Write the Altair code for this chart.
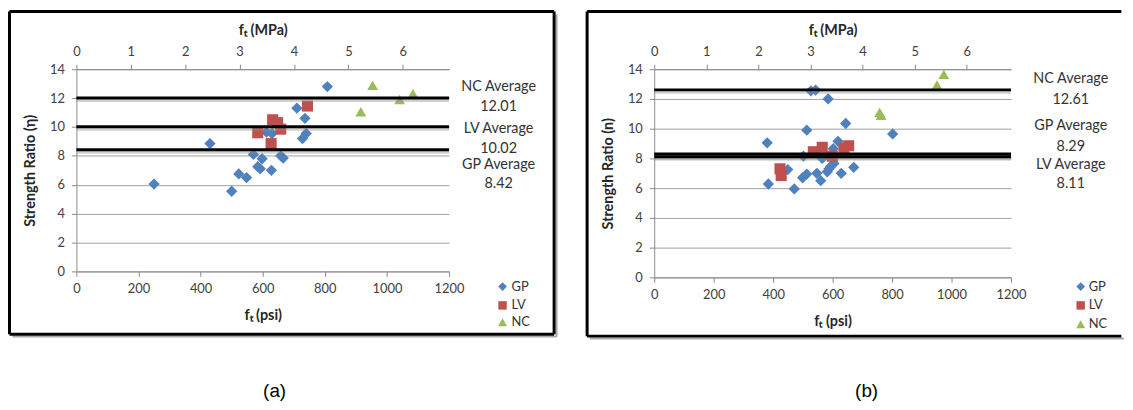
import altair as alt
import pandas as pd

SERIES = ["GP", "LV", "NC"]
COLORS = ["#4F81BD", "#C0504D", "#9BBB59"]
SHAPES = ["diamond", "square", "triangle-up"]
SIZES = [130, 120, 140]

# ---------------- panel (a) ----------------
a_gp_psi = [250, 430, 500, 523, 548, 570, 584, 592, 598, 612, 630, 628, 658, 666, 710, 728, 736, 740, 808]
a_gp_ratio = [6.05, 8.85, 5.55, 6.75, 6.5, 8.1, 7.25, 7.1, 7.8, 9.65, 9.55, 7.0, 8.0, 7.85, 11.3, 9.2, 10.6, 9.55, 12.8]
a_lv_psi = [584, 627, 632, 648, 658, 744]
a_lv_ratio = [9.6, 8.85, 10.5, 10.3, 9.85, 11.45]
a_nc_psi = [916, 954, 1041, 1084]
a_nc_ratio = [11.05, 12.88, 11.9, 12.3]
a_avg_names = ["NC", "LV", "GP"]
a_avg_values = [12.01, 10.02, 8.42]

# ---------------- panel (b) ----------------
b_gp_psi = [380, 384, 449, 471, 499, 513, 502, 513, 527, 543, 585, 547, 560, 565, 582, 588, 593, 604, 618, 629, 644, 671, 602, 802]
b_gp_ratio = [9.05, 6.28, 7.25, 5.95, 6.7, 6.95, 8.15, 9.9, 12.55, 12.6, 12.0, 7.0, 6.5, 8.0, 7.1, 7.3, 7.45, 7.65, 9.15, 7.0, 10.35, 7.4, 8.65, 9.65]
b_lv_psi = [423, 427, 535, 565, 599, 638, 654]
b_lv_ratio = [7.3, 6.85, 8.45, 8.75, 8.15, 8.7, 8.85]
b_nc_psi = [758, 763, 951, 974]
b_nc_ratio = [11.1, 10.9, 12.95, 13.65]
b_avg_names = ["NC", "GP", "LV"]
b_avg_values = [12.61, 8.29, 8.11]

x_ticks = [0, 200, 400, 600, 800, 1000, 1200]
mpa_ticks = [0, 1, 2, 3, 4, 5, 6]
y_ticks = [0, 2, 4, 6, 8, 10, 12, 14]

FONT = "Lato"
TXT = "#333333"


def one(label):
    return pd.DataFrame({"label": [label]})


def text_at(label, x, y, size=14.5, align="center", color=TXT, font=FONT):
    return alt.Chart(one(label)).mark_text(
        align=align, baseline="middle", fontSize=size, font=font, color=color
    ).encode(x=alt.value(x), y=alt.value(y), text="label:N")


def hline(x1, x2, y, color="black", width=3):
    return alt.Chart(one("f")).mark_rule(color=color, strokeWidth=width).encode(
        x=alt.value(x1), x2=alt.value(x2), y=alt.value(y))


def vline(x, y1, y2, color="black", width=3):
    return alt.Chart(one("f")).mark_rule(color=color, strokeWidth=width).encode(
        x=alt.value(x), y=alt.value(y1), y2=alt.value(y2))


def panel(gp, lv, nc, names, values, ytitle, letter, g):
    w, h = g["w"], g["h"]
    rows = []
    for s, (px, ry) in zip(SERIES, [gp, lv, nc]):
        for a, b in zip(px, ry):
            rows.append({"series": s, "psi": a, "ratio": b})
    df = pd.DataFrame(rows)

    xs = alt.Scale(domain=[0, 1200], nice=False)
    ys = alt.Scale(domain=[0, 14], nice=False)
    x_axis = alt.Axis(values=x_ticks, grid=False, title="fₜ (psi)", format="d", labelFlush=False,
                      labelOverlap=False, labelPadding=6, titlePadding=14)
    y_axis = alt.Axis(values=y_ticks, grid=True, title=ytitle, format="d", labelOverlap=False,
                      labelPadding=7, titlePadding=12)

    points = alt.Chart(df).mark_point(filled=True, opacity=1, strokeWidth=0).encode(
        x=alt.X("psi:Q", scale=xs, axis=x_axis),
        y=alt.Y("ratio:Q", scale=ys, axis=y_axis),
        color=alt.Color("series:N", scale=alt.Scale(domain=SERIES, range=COLORS), legend=None),
        shape=alt.Shape("series:N", scale=alt.Scale(domain=SERIES, range=SHAPES), legend=None),
        size=alt.Size("series:N", scale=alt.Scale(domain=SERIES, range=SIZES), legend=None),
    )

    avg_df = pd.DataFrame({"name": names, "avg": values, "x0": [0] * len(names), "x1": [1200] * len(names)})
    shadow = alt.Chart(avg_df).mark_rule(color="#8c8c8c", strokeWidth=3, yOffset=2.5, opacity=0.4).encode(
        x=alt.X("x0:Q", scale=xs, axis=x_axis), x2="x1:Q", y=alt.Y("avg:Q", scale=ys, axis=y_axis))
    rules = alt.Chart(avg_df).mark_rule(color="black", strokeWidth=3).encode(
        x=alt.X("x0:Q", scale=xs, axis=x_axis), x2="x1:Q", y=alt.Y("avg:Q", scale=ys, axis=y_axis))

    layers = [points, shadow, rules]

    cx = g["ann_x"]
    for i, (n, v) in enumerate(zip(names, values)):
        layers.append(text_at(f"{n} Average", cx, g["ann_y"][2 * i]))
        layers.append(text_at(f"{v:.2f}", cx, g["ann_y"][2 * i + 1]))

    for i, s in enumerate(SERIES):
        ly = g["leg_y"][i]
        layers.append(alt.Chart(one(s)).mark_point(
            shape=SHAPES[i], filled=True, opacity=1, strokeWidth=0, color=COLORS[i],
            size=SIZES[i] * 0.6).encode(x=alt.value(g["leg_sx"]), y=alt.value(ly)))
        layers.append(text_at(s, g["leg_tx"], ly, size=13, align="left"))

    x1, y1, x2, y2 = g["frame"]
    layers.append(hline(x1 + 3, x2 + 2.5, y2 + 2.5, color="#a8a8a8", width=2))
    if g["right_edge"]:
        layers.append(vline(x2 + 2.5, y1 + 3, y2 + 2.5, color="#a8a8a8", width=2))
        layers.append(vline(x2, y1, y2))
    layers.append(hline(x1, x2, y1))
    layers.append(hline(x1, x2, y2))
    layers.append(vline(x1, y1, y2))

    layers.append(text_at(letter, g["lab_x"], g["lab_y"], size=19,
                          font="Liberation Sans Narrow, Liberation Sans", color="black"))

    inner = alt.layer(*layers)

    top = alt.Chart(pd.DataFrame({"mpa": mpa_ticks})).mark_point(opacity=0).encode(
        x=alt.X("mpa:Q", scale=alt.Scale(domain=[0, 6.85], nice=False), axis=alt.Axis(
            orient="top", values=mpa_ticks, grid=False, title="fₜ (MPa)", format="d",
            labelFlush=False, labelOverlap=False, labelPadding=6, titlePadding=8)))

    return alt.layer(inner, top).resolve_scale(x="independent").properties(width=w, height=h)


# plot tops are shared by both panels (page y = 67.7)
ga = dict(w=376, h=204, frame=(-67.5, -58.2, 482, 267.3), right_edge=True,
          ann_x=426, ann_y=[18.3, 38.3, 60.3, 80.3, 96.3, 116.3],
          leg_sx=430, leg_tx=439, leg_y=[219.3, 238.3, 255.3],
          lab_x=200, lab_y=324.3)
gb = dict(w=360, h=210, frame=(-67.7, -58.2, 471.3, 269.3), right_edge=False,
          ann_x=420.3, ann_y=[10.3, 31.3, 57.3, 78.3, 96.3, 116.3],
          leg_sx=430.3, leg_tx=438.3, leg_y=[219.3, 238.3, 257.3],
          lab_x=214.3, lab_y=324.3)

pa = panel((a_gp_psi, a_gp_ratio), (a_lv_psi, a_lv_ratio), (a_nc_psi, a_nc_ratio),
           a_avg_names, a_avg_values, "Strength Ratio (η)", "(a)", ga)
pb = panel((b_gp_psi, b_gp_ratio), (b_lv_psi, b_lv_ratio), (b_nc_psi, b_nc_ratio),
           b_avg_names, b_avg_values, "Strength Ratio (n)", "(b)", gb)

chart = alt.hconcat(pa, pb, spacing=27).properties(padding=0, background="white").configure_view(
    stroke=None
).configure_axis(
    labelFont=FONT, labelFontSize=13, labelColor="#404040",
    titleFont=FONT, titleFontSize=14.5, titleFontWeight="bold", titleColor="#262626",
    domainColor="#8a8a8a", tickColor="#8a8a8a", gridColor="#a0a0a0", tickSize=5,
)

chart.save("out.html", embed_options={"renderer": "svg", "actions": False})
